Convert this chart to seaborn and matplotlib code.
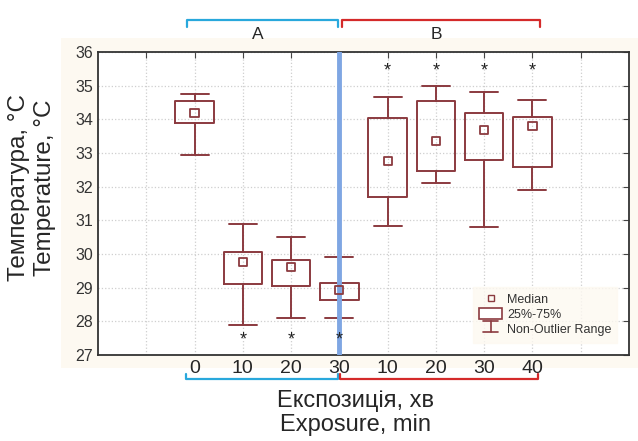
import numpy as np
import pandas as pd
import seaborn as sns
import matplotlib.pyplot as plt
from matplotlib.lines import Line2D
from matplotlib.patches import Patch, Rectangle
from matplotlib.legend_handler import HandlerBase

# data
tick_labels = ['0', '10', '20', '30', '10', '20', '30', '40']
groups = ['A', 'A', 'A', 'A', 'B', 'B', 'B', 'B']
whisk_lo = [32.95, 27.9, 28.1, 28.1, 30.84, 32.12, 30.8, 31.91]
q1 = [33.9, 29.1, 29.05, 28.62, 31.7, 32.46, 32.79, 32.58]
medians = [34.2, 29.75, 29.62, 28.92, 32.75, 33.36, 33.69, 33.8]
q3 = [34.55, 30.07, 29.82, 29.15, 34.04, 34.56, 34.19, 34.07]
whisk_hi = [34.75, 30.9, 30.5, 29.9, 34.65, 35.0, 34.81, 34.59]
star_pos = [1, 2, 3, 4, 5, 6, 7]
star_y = [27.45, 27.45, 27.45, 35.45, 35.45, 35.45, 35.45]

box_col = '#8b3a3f'
cream = '#fdf9f1'

sns.set_style('white')
plt.rcParams['font.family'] = ['Liberation Sans', 'DejaVu Sans']

fig = plt.figure(figsize=(6.38, 4.41), dpi=100)
fig.patches.append(Rectangle((0.0956, 0.1655), 0.905, 0.749, transform=fig.transFigure,
                             facecolor=cream, edgecolor='none', zorder=-10))
ax = fig.add_axes([0.1536, 0.195, 0.8323, 0.687])
ax.set_facecolor('white')

pos = np.arange(len(tick_labels))
stats = []
for i in range(len(pos)):
    stats.append(dict(med=medians[i], q1=q1[i], q3=q3[i],
                      whislo=whisk_lo[i], whishi=whisk_hi[i], fliers=[]))
ax.bxp(stats, positions=pos, widths=0.8, capwidths=0.58, showfliers=False,
       boxprops=dict(color=box_col, linewidth=1.4),
       whiskerprops=dict(color=box_col, linewidth=1.4),
       capprops=dict(color=box_col, linewidth=1.4),
       medianprops=dict(linewidth=0))

df = pd.DataFrame({'pos': pos, 'median': medians, 'group': groups})
sns.scatterplot(data=df, x='pos', y='median', marker='s', s=34, facecolor='none',
                edgecolor=box_col, linewidth=1.3, ax=ax, zorder=5, legend=False)

for p, y in zip(star_pos, star_y):
    ax.text(p, y, '*', ha='center', va='center', fontsize=13, color='#222222', zorder=6)

ax.axvline(3, color='#7fa6e3', linewidth=3.5, zorder=4)

ax.set_xlim(-2, 9)
ax.set_ylim(27, 36)
ax.set_xticks(np.arange(-1, 9))
ax.set_xticklabels([''] + tick_labels + [''], fontsize=14)
ax.set_yticks(np.arange(27, 37))
ax.tick_params(axis='y', labelsize=11.5, labelcolor='#333333')
ax.tick_params(direction='in', length=4, top=True, right=True, color='#444444')
ax.grid(True, color='#cfcfcf', linestyle=':', linewidth=0.9)
for s in ax.spines.values():
    s.set_color('#333333')
    s.set_linewidth(1.3)
ax.set_xlabel('')
ax.set_ylabel('')

fig.text(0.05, 0.575, 'Температура, °С\nTemperature, °С', rotation=90, ha='center',
         va='center', fontsize=17.5, linespacing=1.2)
fig.text(0.557, 0.063, 'Експозиція, хв\nExposure, min', ha='center', va='center',
         fontsize=17, linespacing=1.15)

# group brackets
trans = ax.get_xaxis_transform()
def bracket(x0, x1, y, dy, col):
    ax.add_line(Line2D([x0, x0, x1, x1], [y + dy, y, y, y + dy], transform=trans,
                       color=col, linewidth=1.6, clip_on=False))
bracket(-0.15, 2.98, 1.106, -0.022, '#29a8dc')
bracket(3.05, 7.16, 1.106, -0.022, '#d42a2a')
bracket(-0.17, 2.97, -0.079, 0.017, '#29a8dc')
bracket(3.02, 7.12, -0.079, 0.017, '#d42a2a')
ax.text(1.3, 1.058, 'A', transform=trans, ha='center', va='center', fontsize=12.5)
ax.text(5.0, 1.058, 'B', transform=trans, ha='center', va='center', fontsize=12.5)

# legend
class WhiskerHandler(HandlerBase):
    def create_artists(self, legend, orig, xd, yd, w, h, fs, trans):
        cx = xd + w / 2
        arts = [Line2D([cx - w * 0.35, cx + w * 0.35], [yd + h, yd + h]),
                Line2D([cx, cx], [yd, yd + h]),
                Line2D([cx - w * 0.35, cx + w * 0.35], [yd, yd])]
        for a in arts:
            a.set_color(box_col)
            a.set_linewidth(1.2)
            a.set_transform(trans)
        return arts

h_med = Line2D([], [], marker='s', linestyle='none', markerfacecolor='none',
               markeredgecolor=box_col, markersize=5)
h_box = Patch(facecolor='white', edgecolor=box_col, linewidth=1.2)
h_whisk = Line2D([], [])
leg = ax.legend([h_med, h_box, h_whisk], ['Median', '25%-75%', 'Non-Outlier Range'],
                handler_map={h_whisk: WhiskerHandler()}, loc='lower right',
                bbox_to_anchor=(0.99, 0.02), fontsize=9, frameon=True, fancybox=False,
                handlelength=1.8, handleheight=1.0, labelspacing=0.2, borderpad=0.5,
                handletextpad=0.4)
leg.get_frame().set_facecolor(cream)
leg.get_frame().set_edgecolor(cream)
for t in leg.get_texts():
    t.set_color('#333333')

fig.savefig('out.png', dpi=100)
